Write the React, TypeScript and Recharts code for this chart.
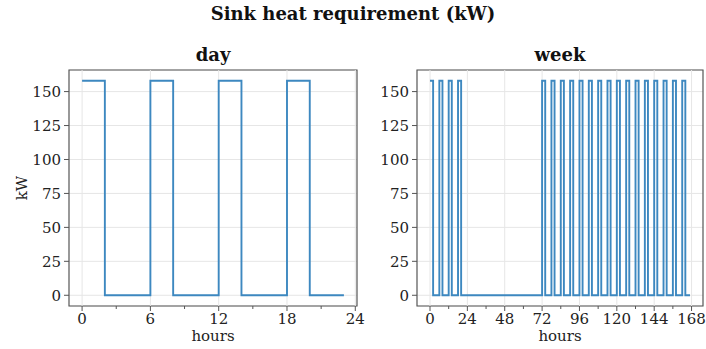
import { LineChart, Line, XAxis, YAxis, CartesianGrid, ReferenceLine, ReferenceArea } from "recharts";

// step change points (hours) and the kW level that starts there
const dayHours = [0, 2, 6, 8, 12, 14, 18, 20, 23];
const dayKW = [158, 0, 158, 0, 158, 0, 158, 0, 0];

const weekHours = [
  0, 2, 6, 8, 12, 14, 18, 20,
  72, 74, 78, 80, 84, 86, 90, 92, 96, 98, 102, 104, 108, 110, 114, 116,
  120, 122, 126, 128, 132, 134, 138, 140, 144, 146, 150, 152, 156, 158, 162, 164, 167,
];
const weekKW = [
  158, 0, 158, 0, 158, 0, 158, 0,
  158, 0, 158, 0, 158, 0, 158, 0, 158, 0, 158, 0, 158, 0, 158, 0,
  158, 0, 158, 0, 158, 0, 158, 0, 158, 0, 158, 0, 158, 0, 158, 0, 0,
];

const dayMajor = [0, 6, 12, 18, 24];
const dayMinor = [3, 9, 15, 21];
const weekMajor = [0, 24, 48, 72, 96, 120, 144, 168];
const weekMinor = [12, 36, 60, 84, 108, 132, 156];
const kwTicks = [0, 25, 50, 75, 100, 125, 150];

const FONT = "'DejaVu Serif', 'Liberation Serif', serif";
const LINE = "#3d88c0";
const GRID = "#e6e6e6";
const FRAME = "#555";
const Y_DOM: [number, number] = [-7.9, 165.9];

const dayData = dayHours.map((h, i) => ({ h, kw: dayKW[i] }));
const weekData = weekHours.map((h, i) => ({ h, kw: weekKW[i] }));

function makeTick(majors: number[]) {
  return (props: any) => {
    const { x, y, payload } = props;
    const major = majors.includes(payload.value);
    return (
      <g>
        <line x1={x} x2={x} y1={y} y2={y + (major ? 5 : 3)} stroke={FRAME} strokeWidth={1} />
        {major && (
          <text x={x} y={y + 18} textAnchor="middle" fontSize={15} fontFamily={FONT} fill="#222">
            {payload.value}
          </text>
        )}
      </g>
    );
  };
}

interface PanelProps {
  data: { h: number; kw: number }[];
  xDom: [number, number];
  majors: number[];
  minors: number[];
  width: number;
  marginLeft: number;
  marginRight: number;
}

function Panel({ data, xDom, majors, minors, width, marginLeft, marginRight }: PanelProps) {
  return (
    <LineChart
      width={width}
      height={349}
      data={data}
      margin={{ top: 70, right: marginRight, left: marginLeft, bottom: 13 }}
    >
      <CartesianGrid stroke={GRID} vertical={false} />
      {majors.map((m) => (
        <ReferenceLine key={m} x={m} stroke={GRID} strokeWidth={1} />
      ))}
      <XAxis
        dataKey="h"
        type="number"
        domain={xDom}
        ticks={[...majors, ...minors]}
        allowDataOverflow
        height={30}
        tickLine={false}
        tickSize={0}
        tickMargin={0}
        axisLine={false}
        tick={makeTick(majors)}
        interval={0}
      />
      <YAxis
        type="number"
        domain={Y_DOM}
        ticks={kwTicks}
        allowDataOverflow
        width={40}
        tickSize={5}
        tickMargin={3}
        axisLine={false}
        tickLine={{ stroke: FRAME }}
        tick={{ fontSize: 15, fontFamily: FONT, fill: "#222" }}
        interval={0}
      />
      <Line
        type="stepAfter"
        dataKey="kw"
        stroke={LINE}
        strokeWidth={1.9}
        dot={false}
        isAnimationActive={false}
      />
      <ReferenceArea
        x1={xDom[0]}
        x2={xDom[1]}
        y1={Y_DOM[0]}
        y2={Y_DOM[1]}
        fill="none"
        stroke={FRAME}
        strokeWidth={1.2}
        ifOverflow="extendDomain"
      />
    </LineChart>
  );
}

export default function App() {
  return (
    <div style={{ position: "absolute", left: 0, top: 0, width: 706, height: 349, background: "#fff", fontFamily: FONT }}>
      <div style={{ position: "absolute", left: 0, top: 0 }}>
        <Panel data={dayData} xDom={[-1.15, 24.15]} majors={dayMajor} minors={dayMinor} width={370} marginLeft={29} marginRight={13} />
      </div>
      <div style={{ position: "absolute", left: 370, top: 0 }}>
        <Panel data={weekData} xDom={[-8.35, 175.35]} majors={weekMajor} minors={weekMinor} width={336} marginLeft={7} marginRight={3} />
      </div>
      <div style={{ position: "absolute", left: 0, top: 3, width: 706, textAlign: "center", fontSize: 18, fontWeight: "bold", color: "#111" }}>
        Sink heat requirement (kW)
      </div>
      <div style={{ position: "absolute", left: 69, top: 44, width: 288, textAlign: "center", fontSize: 18, fontWeight: "bold", color: "#111" }}>
        day
      </div>
      <div style={{ position: "absolute", left: 417, top: 44, width: 286, textAlign: "center", fontSize: 18, fontWeight: "bold", color: "#111" }}>
        week
      </div>
      <div style={{ position: "absolute", left: 69, top: 328, width: 288, textAlign: "center", fontSize: 15, color: "#222", lineHeight: "17px" }}>
        hours
      </div>
      <div style={{ position: "absolute", left: 417, top: 328, width: 286, textAlign: "center", fontSize: 15, color: "#222", lineHeight: "17px" }}>
        hours
      </div>
      <div
        style={{
          position: "absolute",
          left: 22,
          top: 188,
          transform: "translate(-50%, -50%) rotate(-90deg)",
          fontSize: 15,
          color: "#222",
        }}
      >
        kW
      </div>
    </div>
  );
}
